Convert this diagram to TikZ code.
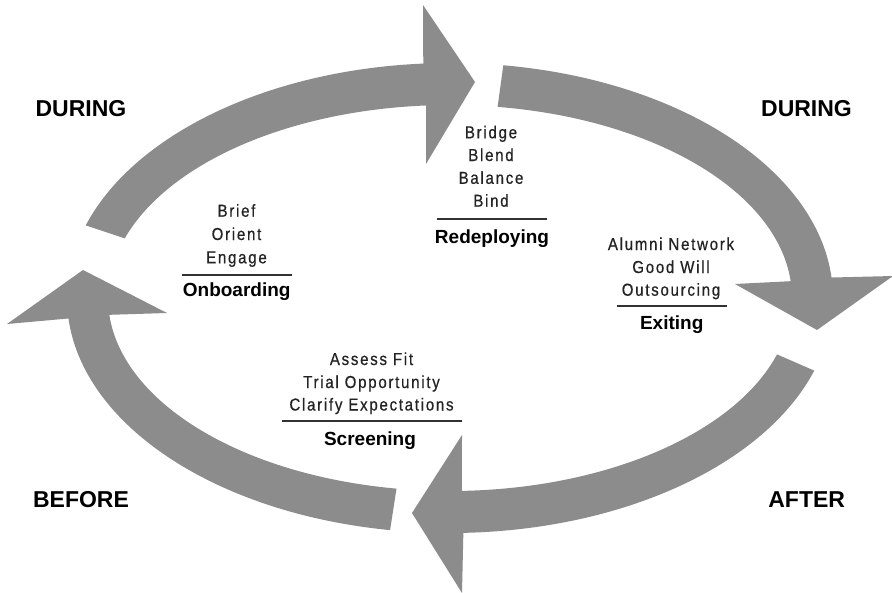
\documentclass[tikz,border=0pt]{standalone}
\usepackage{fontspec}
\setmainfont{Liberation Sans}
\newfontfamily\itemfont[FakeStretch=0.87,LetterSpace=10,FakeBold=0.6]{Liberation Sans}
\definecolor{arrowgray}{RGB}{140,140,140}
\definecolor{itemgray}{RGB}{35,35,35}
\definecolor{rulegray}{RGB}{50,50,50}
\begin{document}
\begin{tikzpicture}[x=1pt,y=1pt,
  band/.style={fill=arrowgray},
  phase/.style={font=\fontsize{23}{23}\selectfont\bfseries, anchor=base, inner sep=0pt},
  itemtext/.style={font=\itemfont\fontsize{17.3}{18}\selectfont, text=itemgray, anchor=base, inner sep=0pt},
  stagetitle/.style={font=\fontsize{19}{19}\selectfont\bfseries, anchor=base, inner sep=0pt},
  rulebar/.style={draw=rulegray, line width=1.8pt}]
\useasboundingbox (0,0) rectangle (892,-592);
\fill[white] (0,0) rectangle (892,-592);
\coordinate (C) at (450,-298);
% arrow 1 (top left, pointing right)
\fill[band] ([shift={(162:383pt and 235pt)}]C) arc[start angle=162,end angle=94,x radius=383pt,y radius=235pt]
  -- (423,-5) -- (475,-82) -- (426,-164)
  -- ([shift={(94:342pt and 193pt)}]C) arc[start angle=94,end angle=162,x radius=342pt,y radius=193pt] -- cycle;
% arrow 2 (top right, pointing down)
\fill[band] ([shift={(82:383pt and 235pt)}]C) arc[start angle=82,end angle=5,x radius=383pt,y radius=235pt]
  -- (893,-276) -- (817,-330) -- (735,-284)
  -- ([shift={(5:342pt and 193pt)}]C) arc[start angle=5,end angle=82,x radius=342pt,y radius=193pt] -- cycle;
% arrow 3 (bottom right, pointing left)
\fill[band] ([shift={(-18:383pt and 235pt)}]C) arc[start angle=-18,end angle=-88,x radius=383pt,y radius=235pt]
  -- (462,-593) -- (412,-513) -- (462,-435)
  -- ([shift={(-88:342pt and 193pt)}]C) arc[start angle=-88,end angle=-17,x radius=342pt,y radius=193pt] -- cycle;
% arrow 4 (bottom left, pointing up)
\fill[band] ([shift={(261:383pt and 235pt)}]C) arc[start angle=261,end angle=185,x radius=383pt,y radius=235pt]
  -- (7,-324) -- (83,-270) -- (167,-313)
  -- ([shift={(185:342pt and 193pt)}]C) arc[start angle=185,end angle=261,x radius=342pt,y radius=193pt] -- cycle;
% phase labels
\node[phase] (d1) at (81,-116.7) {DURING};
\node[phase] (d2) at (806.5,-116.7) {DURING};
\node[phase] (bf) at (81,-507.7) {BEFORE};
\node[phase] (af) at (806.7,-507.7) {AFTER};
% Onboarding
\node[itemtext] (on1) at (236.5,-216.7) {Brief};
\node[itemtext] (on2) at (236.5,-240) {Orient};
\node[itemtext] (on3) at (236.5,-263.3) {Engage};
\coordinate (onL) at (181.7,-275);
\coordinate (onR) at (291.7,-275);
\draw[rulebar] (onL) -- (onR);
\node[stagetitle] (onT) at (236.7,-296.7) {Onboarding};
% Redeploying
\node[itemtext] (re1) at (491,-138.3) {Bridge};
\node[itemtext] (re2) at (491,-161) {Blend};
\node[itemtext] (re3) at (491,-183.8) {Balance};
\node[itemtext] (re4) at (491,-206.7) {Bind};
\coordinate (reL) at (436.7,-219.3);
\coordinate (reR) at (546.7,-219.3);
\draw[rulebar] (reL) -- (reR);
\node[stagetitle] (reT) at (492,-243) {Redeploying};
% Exiting
\node[itemtext] (ex1) at (671,-250) {Alumni Network};
\node[itemtext] (ex2) at (671,-273) {Good Will};
\node[itemtext] (ex3) at (671,-295.7) {Outsourcing};
\coordinate (exL) at (616.7,-306);
\coordinate (exR) at (726.7,-306);
\draw[rulebar] (exL) -- (exR);
\node[stagetitle] (exT) at (671.7,-329) {Exiting};
% Screening
\node[itemtext] (sc1) at (371.5,-365) {Assess Fit};
\node[itemtext] (sc2) at (371.5,-388) {Trial Opportunity};
\node[itemtext] (sc3) at (371.5,-410.5) {Clarify Expectations};
\coordinate (scL) at (281.7,-421);
\coordinate (scR) at (461.7,-421);
\draw[rulebar] (scL) -- (scR);
\node[stagetitle] (scT) at (370,-445) {Screening};
\end{tikzpicture}
\end{document}
